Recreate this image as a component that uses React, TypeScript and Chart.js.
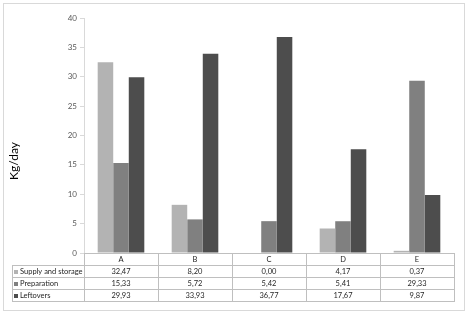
import React, { useEffect, useRef } from "react";
import { Chart, registerables } from "chart.js";

Chart.register(...registerables);

const categories = ["A", "B", "C", "D", "E"];
const seriesNames = ["Supply and storage", "Preparation", "Leftovers"];
const supplyValues = [32.47, 8.2, 0.0, 4.17, 0.37];
const preparationValues = [15.33, 5.72, 5.42, 5.41, 29.33];
const leftoversValues = [29.93, 33.93, 36.77, 17.67, 9.87];
const seriesColors = ["#b3b3b3", "#808080", "#4d4d4d"];
const yMin = 0;
const yMax = 40;
const yStep = 5;
const yAxisTitle = "Kg/day";

const FONT = "Lato, 'Open Sans', sans-serif";

const fmt = (v: number) => v.toFixed(2).replace(".", ",");

const framePlugin = {
  id: "frame",
  beforeDraw(chart: any) {
    const { ctx, width, height } = chart;
    ctx.save();
    ctx.fillStyle = "#ffffff";
    ctx.fillRect(0, 0, width, height);
    ctx.strokeStyle = "#d9d9d9";
    ctx.lineWidth = 1;
    ctx.strokeRect(3.5, 3.5, 461, 307);
    ctx.restore();
  },
};

const tablePlugin = {
  id: "dataTable",
  afterDraw(chart: any) {
    const { ctx, chartArea } = chart;
    const xs = chart.scales.x;
    const n = categories.length;
    const catW = (chartArea.right - chartArea.left) / n;
    const top = Math.round(chartArea.bottom);
    const headerH = 12;
    const rowH = 12;
    const legendLeft = 12;
    const rowsTop = top + headerH;
    const bottom = rowsTop + rowH * seriesNames.length;
    const L = Math.round(chartArea.left) + 0.5;
    const R = Math.round(chartArea.right) + 0.5;
    ctx.save();
    ctx.lineWidth = 1;
    ctx.strokeStyle = "#bfbfbf";
    ctx.beginPath();
    ctx.moveTo(L, top + 0.5);
    ctx.lineTo(R, top + 0.5);
    for (let r = 0; r <= seriesNames.length; r++) {
      const y = rowsTop + r * rowH + 0.5;
      ctx.moveTo(legendLeft + 0.5, y);
      ctx.lineTo(R, y);
    }
    ctx.moveTo(legendLeft + 0.5, rowsTop);
    ctx.lineTo(legendLeft + 0.5, bottom + 1);
    for (let i = 0; i <= n; i++) {
      const cx = xs.getPixelForValue(Math.min(i, n - 1));
      const bx = i < n ? cx - catW / 2 : cx + catW / 2;
      const px = Math.round(bx) + 0.5;
      ctx.moveTo(px, top);
      ctx.lineTo(px, bottom + 1);
    }
    ctx.stroke();

    ctx.fillStyle = "#262626";
    ctx.font = `7.5px ${FONT}`;
    ctx.textBaseline = "middle";
    ctx.textAlign = "center";
    categories.forEach((c, i) => {
      ctx.fillText(c, xs.getPixelForValue(i), top + headerH / 2 + 1);
    });
    const seriesValues = [supplyValues, preparationValues, leftoversValues];
    seriesNames.forEach((name, r) => {
      const cy = rowsTop + r * rowH + rowH / 2 + 1;
      ctx.fillStyle = seriesColors[r];
      ctx.fillRect(legendLeft + 2, cy - 2, 4, 4);
      ctx.fillStyle = "#262626";
      ctx.textAlign = "left";
      ctx.fillText(name, legendLeft + 8, cy);
      ctx.textAlign = "center";
      seriesValues[r].forEach((v, i) => {
        ctx.fillText(fmt(v), xs.getPixelForValue(i), cy);
      });
    });

    ctx.save();
    ctx.translate(14, 161);
    ctx.rotate(-Math.PI / 2);
    ctx.fillStyle = "#000000";
    ctx.font = `12px ${FONT}`;
    ctx.textAlign = "center";
    ctx.textBaseline = "middle";
    ctx.fillText(yAxisTitle, 0, 0);
    ctx.restore();
    ctx.restore();
  },
};

export default function App() {
  const ref = useRef<HTMLCanvasElement | null>(null);
  useEffect(() => {
    if (!ref.current) return;
    const chart = new Chart(ref.current, {
      type: "bar",
      data: {
        labels: categories,
        datasets: [
          { label: seriesNames[0], data: supplyValues, backgroundColor: seriesColors[0] },
          { label: seriesNames[1], data: preparationValues, backgroundColor: seriesColors[1] },
          { label: seriesNames[2], data: leftoversValues, backgroundColor: seriesColors[2] },
        ],
      },
      options: {
        animation: false,
        responsive: false,
        devicePixelRatio: 1,
        layout: { padding: { left: 0, right: 13, top: 18, bottom: 60 } },
        datasets: { bar: { barPercentage: 1, categoryPercentage: 0.63, borderWidth: 0 } },
        plugins: { legend: { display: false }, tooltip: { enabled: false }, title: { display: false } },
        scales: {
          x: { display: false, offset: true },
          y: {
            min: yMin,
            max: yMax,
            ticks: { stepSize: yStep, color: "#595959", font: { family: FONT, size: 8 }, padding: 3 },
            grid: { drawOnChartArea: false, tickLength: 4, color: "#d9d9d9" },
            border: { color: "#d9d9d9" },
            afterFit(s: any) {
              s.width = 84;
            },
          },
        },
      },
      plugins: [framePlugin, tablePlugin],
    } as any);
    return () => chart.destroy();
  }, []);
  return (
    <div style={{ position: "fixed", left: 0, top: 0, width: 467, height: 313, background: "#fff" }}>
      <canvas ref={ref} width={467} height={313} />
    </div>
  );
}
